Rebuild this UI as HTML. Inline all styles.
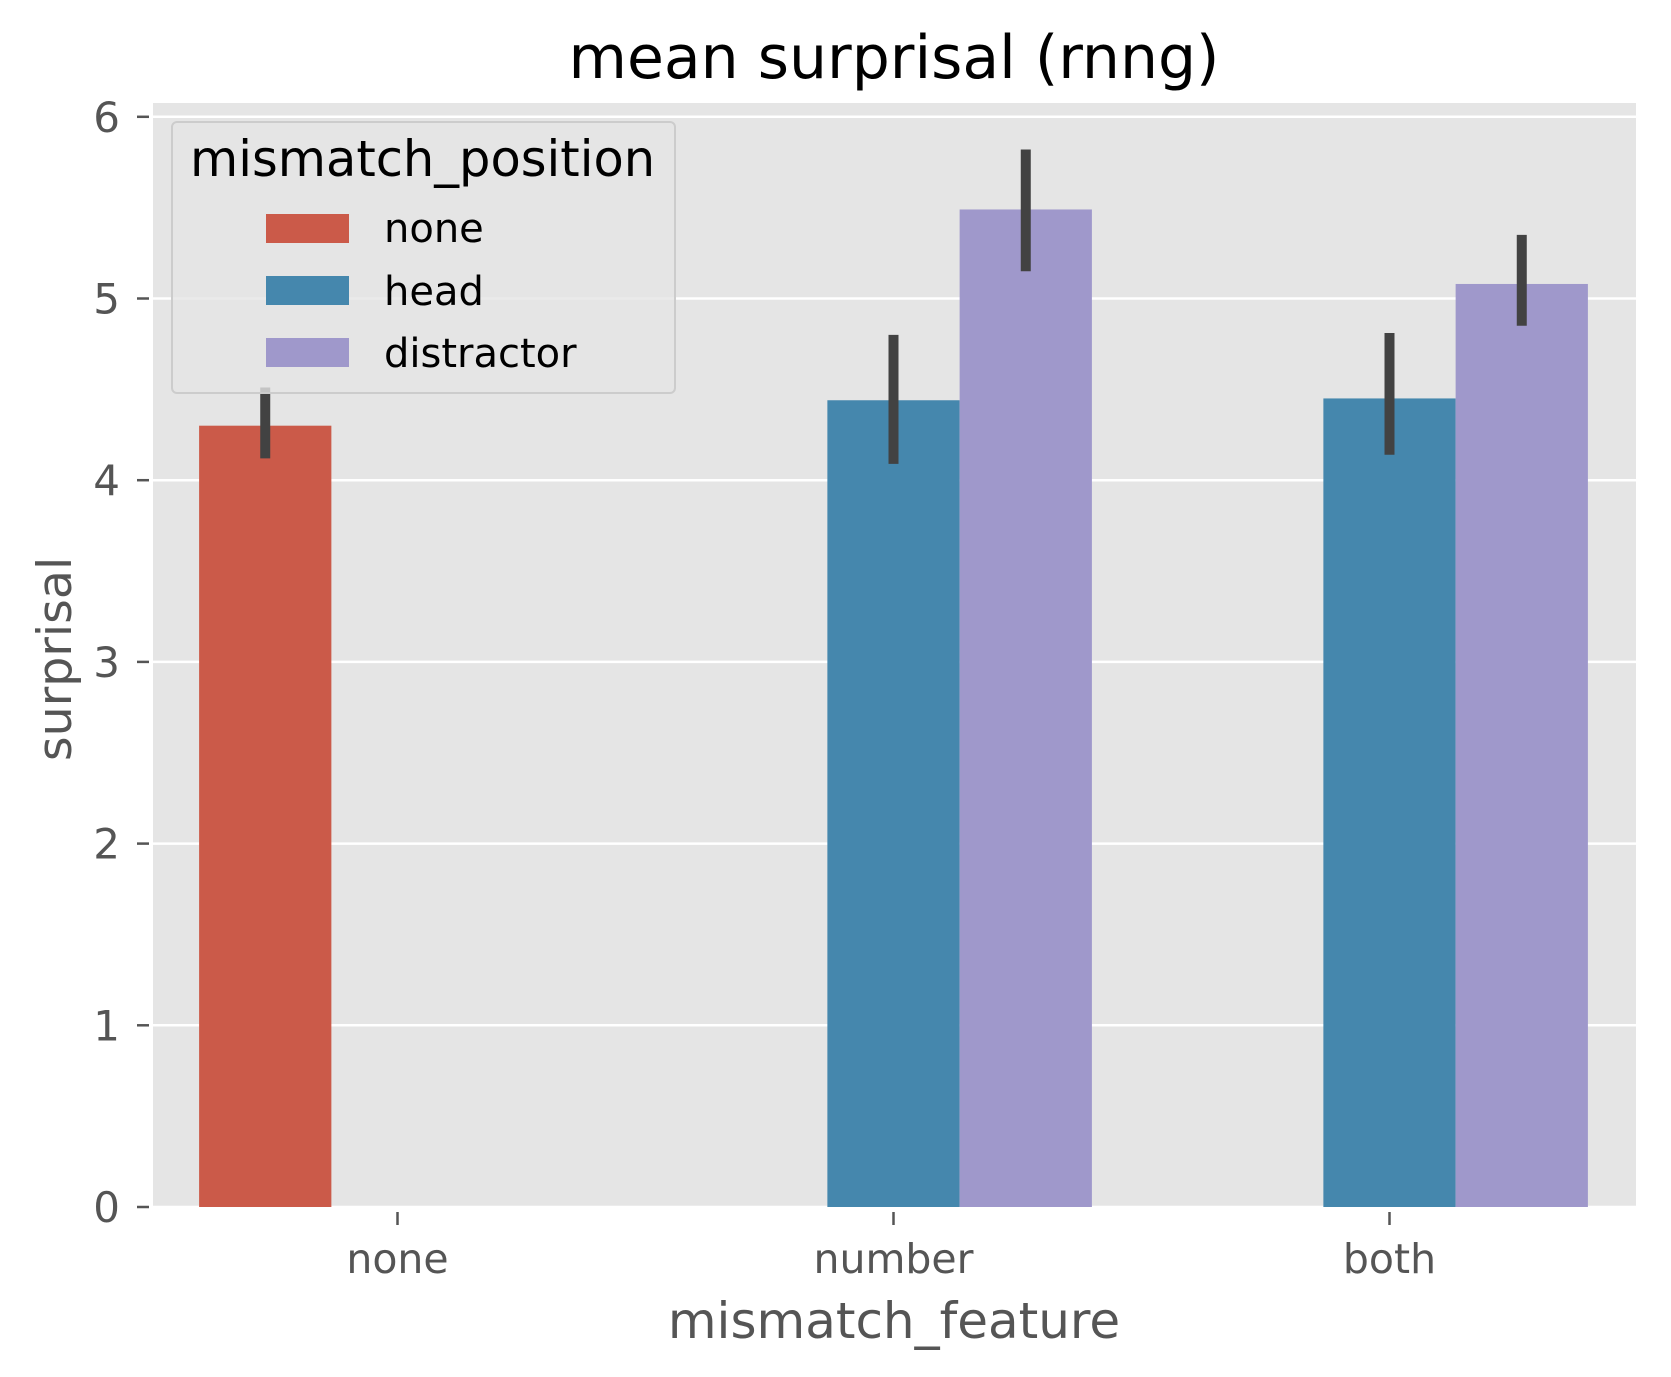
<!DOCTYPE html>
<html><head><meta charset="utf-8"><style>
html,body{margin:0;padding:0;background:#fff;}
svg{display:block;font-family:"DejaVu Sans","Liberation Sans",sans-serif;}
</style></head><body>
<svg id="chart" width="1671" height="1377" viewBox="0 0 1671 1377">
<rect x="153" y="103" width="1483" height="1104" fill="#E5E5E5"/>
<g id="grid"></g><g id="bars"></g><g id="axes"></g>
<text x="894" y="78" font-size="60" text-anchor="middle" fill="#000">mean surprisal (rnng)</text>
<text x="894" y="1338" font-size="50" text-anchor="middle" fill="#555">mismatch_feature</text>
<text transform="translate(71,659) rotate(-90)" font-size="47.5" text-anchor="middle" fill="#555">surprisal</text>
<g>
<rect x="172" y="122" width="503" height="271" rx="5" fill="#E5E5E5" fill-opacity="0.8" stroke="#CCCCCC" stroke-width="2"/>
<text x="190" y="176" font-size="49.5" fill="#000">mismatch_position</text>
<g><rect x="266" y="214" width="83" height="29" fill="#CB5A49"/><text x="384" y="242" font-size="40" fill="#000">none</text></g>
<g><rect x="266" y="276" width="83" height="29" fill="#4587AD"/><text x="384" y="305" font-size="40" fill="#000">head</text></g>
<g><rect x="266" y="338" width="83" height="29" fill="#9F98CB"/><text x="384" y="367" font-size="40" fill="#000">distractor</text></g>
</g>
</svg>
<script>
const categories = ["none","number","both"];
const hues = ["none","head","distractor"];
const hueColors = ["#CB5A49","#4587AD","#9F98CB"];
const barCat = [0,1,1,2,2];
const barHue = [0,1,2,1,2];
const barMean = [4.30,4.44,5.49,4.45,5.08];
const barLow = [4.12,4.09,5.15,4.14,4.85];
const barHigh = [4.51,4.80,5.82,4.81,5.35];
const yTicks = [0,1,2,3,4,5,6];

const NS="http://www.w3.org/2000/svg";
const y0=1207, pxPerUnit=181.7;
function yScale(v){return y0 - v*pxPerUnit;}
function xScale(c){return 397.5 + c*496;}
const bw = 496*0.8/3;
function hueOffset(h){return (h-1)*bw;}
function mk(tag,attrs,parent){const e=document.createElementNS(NS,tag);for(const k in attrs)e.setAttribute(k,attrs[k]);parent.appendChild(e);return e;}
const grid=document.getElementById('grid'), bars=document.getElementById('bars'), axes=document.getElementById('axes');
yTicks.forEach(t=>{
  const g=mk('line',{x1:153,x2:1636,y1:yScale(t),y2:yScale(t),stroke:'#fff','stroke-width':2.5},grid);
  
  
  const tk=mk('line',{x1:137,x2:149,y1:yScale(t),y2:yScale(t),stroke:'#555','stroke-width':2.5},axes);
  
  
  const tx=mk('text',{x:120,y:yScale(t)+15,'font-size':42,'text-anchor':'end',fill:'#555'},axes);
  tx.textContent=t;
  
  
});
categories.forEach((c,i)=>{
  const tk=mk('line',{x1:xScale(i),x2:xScale(i),y1:1212,y2:1225,stroke:'#555','stroke-width':2.5},axes);
  
  
  const tx=mk('text',{x:xScale(i),y:1273,'font-size':41,'text-anchor':'middle',fill:'#555'},axes);
  tx.textContent=c;
  
  
});
barMean.forEach((m,i)=>{
  const cx=xScale(barCat[i])+hueOffset(barHue[i]);
  const r=mk('rect',{x:cx-bw/2,y:yScale(m),width:bw,height:yScale(0)-yScale(m),fill:hueColors[barHue[i]]},bars);
  
  
  const e=mk('line',{x1:cx,x2:cx,y1:yScale(barLow[i]),y2:yScale(barHigh[i]),stroke:'#424242','stroke-width':10},bars);
  
  
});
</script>
</body></html>
